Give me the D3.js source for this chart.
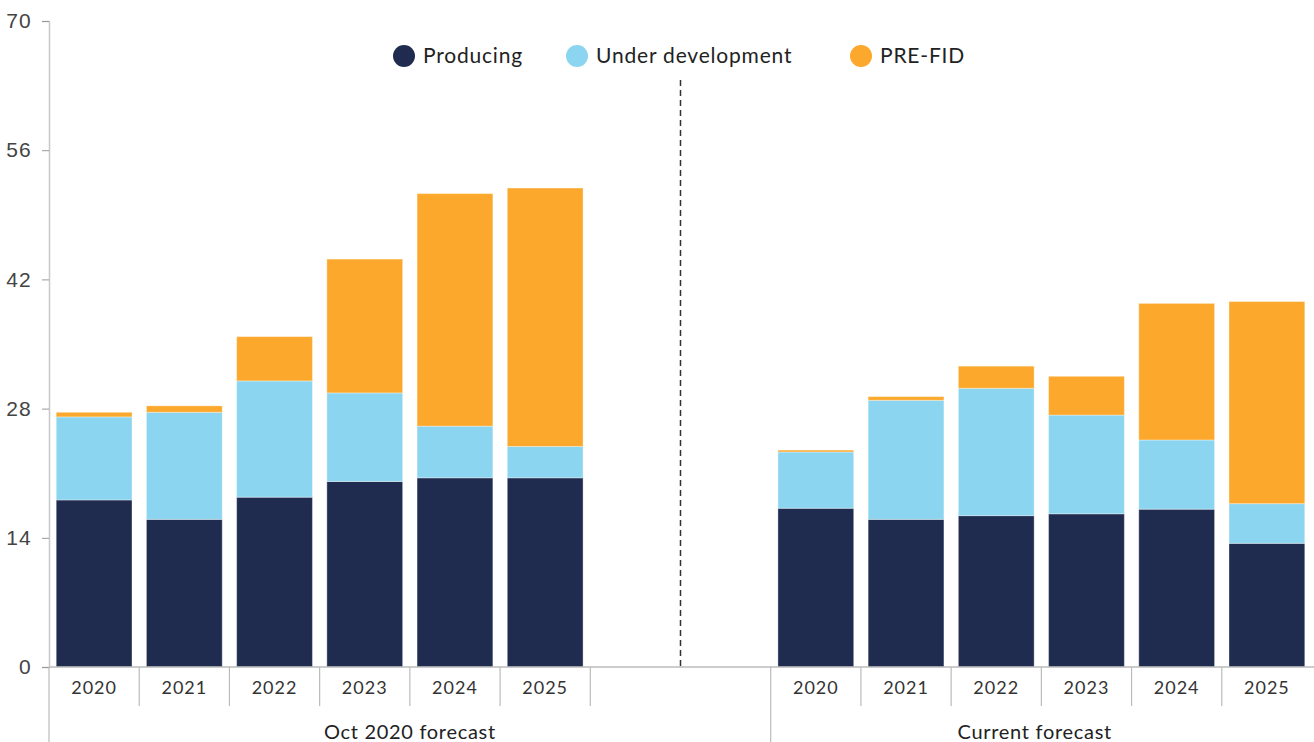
<!DOCTYPE html>
<html>
<head>
<meta charset="utf-8">
<script src="https://cdn.jsdelivr.net/npm/d3@7"></script>
<style>
  body { margin: 0; background: #fff; }
  svg { display: block; font-family: "Lato", "Open Sans", sans-serif; }
</style>
</head>
<body>
<div id="chart"></div>
<script>
// stacked bars, two forecast groups side by side

const years = ["2020", "2021", "2022", "2023", "2024", "2025"];
const groups = ["Oct 2020 forecast", "Current forecast"];
const seriesNames = ["Producing", "Under development", "PRE-FID"];
const colors = ["#1f2c4f", "#8bd5f0", "#fca82c"];
const yTicks = [0, 14, 28, 42, 56, 70];

// per-segment values (not cumulative)
const octProducing = [18.1, 16.0, 18.4, 20.1, 20.5, 20.5];
const octUnderDev = [9.0, 11.6, 12.6, 9.6, 5.6, 3.4];
const octPreFid = [0.5, 0.7, 4.8, 14.5, 25.2, 28.0];

const curProducing = [17.2, 16.0, 16.4, 16.6, 17.1, 13.4];
const curUnderDev = [6.1, 12.9, 13.8, 10.7, 7.5, 4.3];
const curPreFid = [0.2, 0.4, 2.4, 4.2, 14.8, 21.9];

const width = 1314, height = 742;
const margin = { left: 49, right: 0, top: 21, bottom: 75 };

// 14 slots: 6 years, 2 empty, 6 years
const slots = d3.range(14);
const x = d3.scaleBand().domain(slots).range([margin.left, width - 2]).paddingInner(0.16).paddingOuter(0.08);
const y = d3.scaleLinear().domain([0, 70]).range([height - margin.bottom, margin.top]);

const rows = [];
years.forEach((yr, i) => {
  rows.push({ slot: i, year: yr, vals: [octProducing[i], octUnderDev[i], octPreFid[i]] });
  rows.push({ slot: i + 8, year: yr, vals: [curProducing[i], curUnderDev[i], curPreFid[i]] });
});

const svg = d3.select("#chart").append("svg")
  .attr("width", width).attr("height", height);

// y axis
const yAxis = svg.append("g")
  .attr("transform", "translate(" + margin.left + ",0)")
  .call(d3.axisLeft(y).tickValues(yTicks).tickSize(7).tickPadding(10));
yAxis.select(".domain").attr("stroke", "#c8c8c8").attr("stroke-width", 1.5);
yAxis.selectAll(".tick line").attr("stroke", "#999");
yAxis.selectAll(".tick text").attr("fill", "#444").attr("font-size", 21)
  .attr("font-weight", 300).attr("letter-spacing", 1.2);

// bars
rows.forEach(r => {
  let acc = 0;
  r.vals.forEach((v, k) => {
    svg.append("rect")
      .attr("x", x(r.slot))
      .attr("width", x.bandwidth())
      .attr("y", y(acc + v))
      .attr("height", y(acc) - y(acc + v))
      .attr("fill", colors[k])
      .attr("stroke", "rgba(255,255,255,0.35)")
      .attr("stroke-width", 1);
    acc += v;
  });
});

// category axis
const base = y(0);
const slotStart = s => x(s) - x.step() * x.paddingInner() / 2;
svg.append("line")
  .attr("x1", margin.left).attr("x2", width)
  .attr("y1", base).attr("y2", base)
  .attr("stroke", "#bbb").attr("stroke-width", 1.5);

// small separators between years
[1, 2, 3, 4, 5, 6, 9, 10, 11, 12, 13].forEach(s => {
  const xx = slotStart(s);
  svg.append("line")
    .attr("x1", xx).attr("x2", xx)
    .attr("y1", base).attr("y2", base + 39)
    .attr("stroke", "#bbb").attr("stroke-width", 1.2);
});
// group boundaries
const groupEdges = [margin.left, slotStart(8)];
groupEdges.forEach(xx => {
  svg.append("line")
    .attr("x1", xx).attr("x2", xx)
    .attr("y1", base).attr("y2", height)
    .attr("stroke", "#bbb").attr("stroke-width", 1.2);
});

rows.forEach(r => {
  svg.append("text")
    .attr("x", x(r.slot) + x.bandwidth() / 2)
    .attr("y", base + 27)
    .attr("text-anchor", "middle")
    .attr("font-size", 18)
    .attr("letter-spacing", 1)
    .attr("fill", "#333")
    .text(r.year);
});

const groupCenters = [(groupEdges[0] + groupEdges[1]) / 2, (groupEdges[1] + x(13) + x.bandwidth()) / 2 - 3];
groups.forEach((g, i) => {
  svg.append("text")
    .attr("x", groupCenters[i])
    .attr("y", height - 3)
    .attr("text-anchor", "middle")
    .attr("font-size", 20)
    .attr("letter-spacing", 0.7)
    .attr("fill", "#222")
    .text(g);
});

// dashed divider
const divX = slotStart(7);
svg.append("line")
  .attr("x1", divX).attr("x2", divX)
  .attr("y1", 80).attr("y2", base)
  .attr("stroke", "#333").attr("stroke-width", 1.5)
  .attr("stroke-dasharray", "6,4");

// legend
const legendX = [404, 577, 861];
seriesNames.forEach((n, i) => {
  svg.append("circle")
    .attr("cx", legendX[i]).attr("cy", 56).attr("r", 11)
    .attr("fill", colors[i]);
  svg.append("text")
    .attr("x", legendX[i] + 19).attr("y", 56)
    .attr("dy", "0.35em")
    .attr("font-size", 21)
    .attr("letter-spacing", 0.8)
    .attr("fill", "#222")
    .text(n);
});
</script>
</body>
</html>
